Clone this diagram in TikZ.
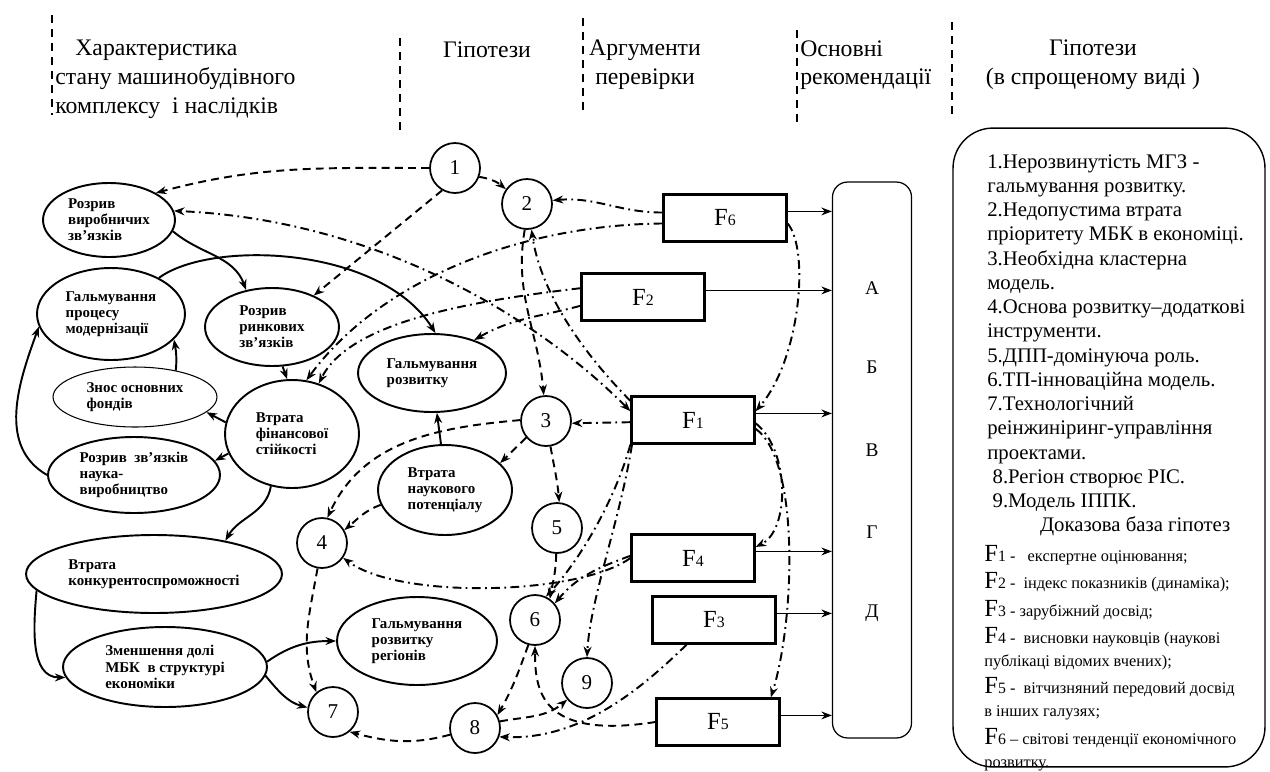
\documentclass[tikz,border=0pt]{standalone}
\usepackage{fontspec}
\setmainfont{Liberation Serif}
\usetikzlibrary{arrows.meta, shapes.geometric, positioning}

\tikzset{
  >={Stealth[length=6pt,width=4.5pt]},
  ell/.style={ellipse, draw, line width=1.1pt, inner sep=0pt, align=left,
    font=\fontsize{8.5}{9.2}\selectfont\bfseries},
  hyp/.style={circle, draw, line width=1pt, minimum size=1cm, inner sep=0pt,
    font=\fontsize{12}{12}\selectfont},
  arg/.style={rectangle, draw, line width=1.3pt, minimum width=2.46cm,
    minimum height=0.94cm, inner sep=0pt},
  sol/.style={->, line width=1.1pt},
  dsh/.style={sol, dash pattern=on 4.5pt off 3pt},
  dd/.style={sol, dash pattern=on 5pt off 2.5pt on 1pt off 2.5pt},
  recarr/.style={->, line width=0.7pt},
  colsep/.style={line width=1.1pt, dash pattern=on 4.5pt off 3.5pt},
  hdr/.style={font=\fontsize{13.5}{16.4}\selectfont, inner sep=0pt},
}
\newcommand{\Fn}[1]{{\fontsize{14}{14}\selectfont F}{\fontsize{9}{9}\selectfont #1}}

\begin{document}
\begin{tikzpicture}[x=0.02cm, y=0.02cm]
  \useasboundingbox (0,0) rectangle (1270,-771);

  % Column headers
  \foreach \x/\a/\b in {52/15/115, 400/38/132, 583/18/115, 797/30/128, 952/22/115}
    \draw[colsep] (\x,-\a) -- (\x,-\b);
  \node[hdr, anchor=north west, align=left] (charhead) at (55,-40)
    {\hspace*{0.4cm}Характеристика\\стану машинобудівного\\комплексу\ \ і наслідків};
  \node[hdr] (hyphead) at (487,-50) {Гіпотези};
  \node[hdr, align=center] (arghead) at (645,-65) {Аргументи\\перевірки};
  \node[hdr, anchor=north west, align=left] (rechead) at (800,-40) {Основні\\рекомендації};
  \node[hdr, align=center] (simphead) at (1093,-65) {Гіпотези\\(в спрощеному виді )};

  % State of the complex
  \node[ell, minimum width=2.64cm, minimum height=1.48cm] (vyrob) at (109,-220) {Розрив\\виробничих\\зв’язків};
  \node[ell, minimum width=2.96cm, minimum height=1.84cm] (modern) at (111,-314) {Гальмування\\процесу\\модернізації};
  \node[ell, minimum width=2.68cm, minimum height=1.56cm] (rynok) at (272,-327) {Розрив\\ринкових\\зв’язків};
  \node[ell, line width=0.6pt, minimum width=3.28cm, minimum height=1.2cm] (znos) at (135,-397) {Знос основних\\фондів};
  \node[ell, minimum width=2.68cm, minimum height=2.16cm] (fin) at (292,-434) {Втрата\\фінансової\\стійкості};
  \node[ell, minimum width=2.96cm, minimum height=1.56cm] (galmrozv) at (432,-373) {Гальмування\\розвитку};
  \node[ell, minimum width=3.44cm, minimum height=1.52cm] (nauka) at (134,-475) {Розрив\ \ зв’язків\\наука-\\виробництво};
  \node[ell, minimum width=2.68cm, minimum height=1.8cm] (potenc) at (445,-490) {Втрата\\наукового\\потенціалу};
  \node[ell, minimum width=5.12cm, minimum height=1.56cm] (konkur) at (154,-574) {Втрата\\конкурентоспроможності};
  \node[ell, minimum width=4.08cm, minimum height=1.6cm] (dolya) at (165,-667) {Зменшення долі\\МБК\ \ в структурі\\економіки};
  \node[ell, minimum width=3.2cm, minimum height=1.76cm] (region) at (417,-641) {Гальмування\\розвитку\\регіонів};

  % Hypotheses
  \foreach \n/\x/\y in {1/455/168, 2/527/204, 3/546/421, 4/322/543, 5/557/528,
                        6/535/620, 7/333/712, 8/475/728, 9/587/683}
    \node[hyp] (h\n) at (\x,-\y) {\n};

  % Arguments
  \foreach \n/\x/\y in {6/725/218, 2/643/297, 1/693/420, 4/693/558, 3/714/620, 5/718/722}
    \node[arg] (f\n) at (\x,-\y) {\Fn{\n}};

  % Recommendations
  \node[draw, rounded corners=0.3cm, line width=0.7pt, minimum width=1.58cm,
        minimum height=11.12cm] (rec) at (872,-460) {};
  \foreach \l/\y/\n in {А/288/ra, Б/367/rb, В/450/rv, Г/532/rg, Д/613/rd}
    \node[font=\fontsize{11}{11}\selectfont] (\n) at (872,-\y) {\l};
  \foreach \f in {f6,f2,f1,f4,f3,f5}
    \draw[recarr] (\f.6) -- (\f.6 -| rec.west);

  % Simplified hypotheses
  \node[draw, rounded corners=0.8cm, line width=0.8pt, minimum width=6.24cm,
        minimum height=12.78cm] (legbox) at (1109,-447.5) {};
  \node[anchor=north west, align=left, inner sep=0pt,
        font=\fontsize{11.8}{13.8}\selectfont] (legtext) at (987,-154)
    {1.Нерозвинутість МГЗ -\\гальмування розвитку.\\2.Недопустима втрата\\
     пріоритету МБК в економіці.\\3.Необхідна кластерна\\модель.\\
     4.Основа розвитку–додаткові\\інструменти.\\5.ДПП-домінуюча роль.\\
     6.ТП-інноваційна модель.\\7.Технологічний\\реінжиніринг-управління\\
     проектами.\\\hspace*{3pt}8.Регіон створює РІС.\\\hspace*{3pt}9.Модель ІППК.\\
     \hspace*{30pt}Доказова база гіпотез};
  \node[anchor=north west, align=left, inner sep=0pt,
        font=\fontsize{9.3}{13}\selectfont] (legproof) at (984,-545)
    {\Fn{1} -\ \ \ експертне оцінювання;\\[2.6pt]
     \Fn{2} -\ \ індекс показників (динаміка);\\[2.6pt]
     \Fn{3} - зарубіжний досвід;\\[2.6pt]
     \Fn{4} -\ \ висновки науковців (наукові\\публікаці відомих вчених);\\[2.6pt]
     \Fn{5} -\ \ вітчизняний передовий досвід\\в інших галузях;\\[2.6pt]
     \Fn{6} – світові тенденції економічного\\розвитку.};

  % Solid links
  \draw[sol] (vyrob.-10) to[out=-40,in=110] (rynok.125);
  \draw[sol] (modern.37) .. controls (210,-240) and (380,-245) .. (galmrozv.85);
  \draw[sol] (rynok.-75) -- (fin.95);
  \draw[sol] (znos.33) to[out=85,in=-80] (modern.-22);
  \draw[sol] (fin.170) -- (znos.-12);
  \draw[sol] (fin.-163) -- (nauka.10);
  \draw[sol] (fin.-112) to[out=-100,in=60] (konkur.25);
  \draw[sol] (nauka.180) to[out=150,in=250] (modern.190);
  \draw[sol] (konkur.188) to[out=-95,in=180] (dolya.186);
  \draw[sol] (dolya.3) to[out=35,in=180] (region.180);
  \draw[sol] (dolya.-5) to[out=-50,in=165] (h7.170);
  \draw[sol] (potenc.95) -- (galmrozv.-83);

  % Dashed links
  \draw[dsh] (h1.west) to[out=180,in=15] (vyrob.30);
  \draw[dsh] (h1.-20) to[out=-10,in=140] (h2.145);
  \draw[dsh] (h1.-120) -- (rynok.37);
  \draw[dsh] (h2.-95) to[out=-100,in=95] (h3.95);
  \draw[dsh] (h3.178) to[out=185,in=65] (h4.78);
  \draw[dsh] (h3.-140) -- (potenc.26);
  \draw[dsh] (h3.-80) to[out=-80,in=95] (h5.85);
  \draw[dsh] (potenc.193) to[out=200,in=40] (h4.30);
  \draw[dsh] (h4.-100) to[out=-100,in=110] (h7.130);
  \draw[dsh] (h5.-92) to[out=-90,in=80] (h6.55);
  \draw[dsh] (h8.195) to[out=195,in=-15] (h7.-50);
  \draw[dsh] (h6.-105) to[out=-110,in=60] (h8.30);
  \draw[dsh] (h8.15) to[out=10,in=220] (h9.220);
  \draw[dsh] (f5.west) .. controls (540,-740) and (535,-690) .. (h6.south);

  % Dash-dot links
  \draw[dd] (f6.175) to[out=180,in=5] (h2.8);
  \draw[dd] (f6.185) .. controls (520,-225) and (380,-280) .. (fin.75);
  \draw[dd] (f2.172) .. controls (480,-300) and (350,-320) .. (fin.62);
  \draw[dd] (f2.188) to[out=195,in=30] (galmrozv.38);
  \draw[dd, <->] (f1.172) .. controls (540,-320) and (380,-220) .. (vyrob.8);
  \draw[dd] (f1.163) .. controls (580,-350) and (540,-290) .. (h2.-80);
  \draw[dd] (f1.182) -- (h3.-5);
  \draw[dd] (f1.-158) .. controls (620,-520) and (590,-600) .. (h9.north);
  \draw[dd] (f1.south west) .. controls (615,-500) and (580,-560) .. (h6.65);
  \draw[dd] (f4.west) .. controls (580,-595) and (400,-600) .. (h4.-35);
  \draw[dd] (f4.178) to[out=200,in=50] (h6.40);
  \draw[dd] (f3.-138) .. controls (640,-690) and (580,-740) .. (h8.-20);
  \draw[dd] (f6.-5) .. controls (810,-250) and (800,-360) .. (f1.8);
  \draw[dd] (f1.-3) .. controls (790,-450) and (790,-530) .. (f4.10);
  \draw[dd] (f1.-8) .. controls (800,-460) and (795,-620) .. (f5.25);

\end{tikzpicture}
\end{document}
